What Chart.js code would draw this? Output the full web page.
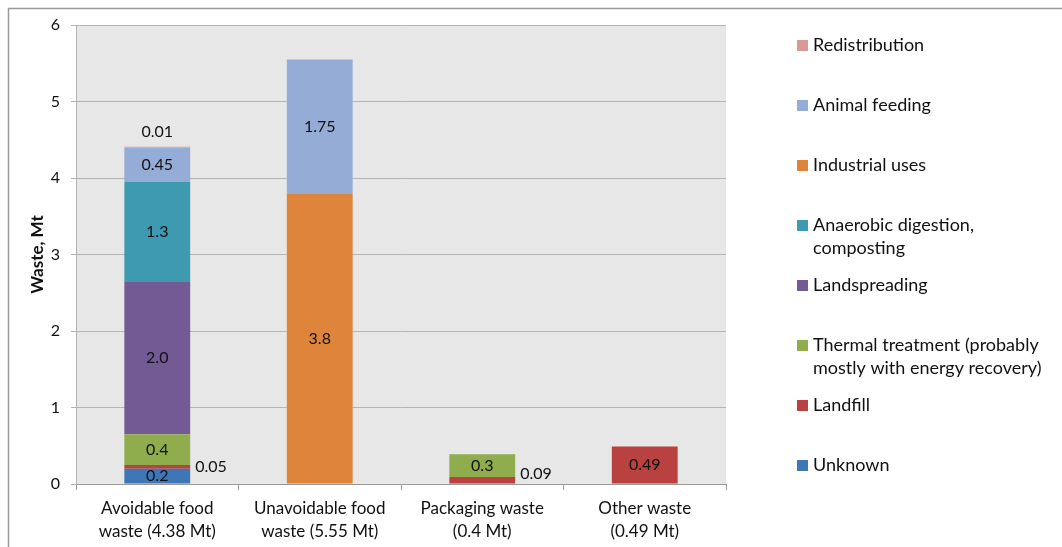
<!DOCTYPE html>
<html>
<head>
<meta charset="utf-8">
<script src="https://cdn.jsdelivr.net/npm/chart.js@4.4.1/dist/chart.umd.min.js"></script>
<style>
  html, body { margin: 0; padding: 0; background: #fff; }
  #wrap { width: 1062px; height: 547px; position: relative; }
</style>
</head>
<body>
<div id="wrap"><canvas id="chart"></canvas></div>
<script>
"use strict";

let CATEGORIES = [
    ["Avoidable food", "waste (4.38 Mt)"],
    ["Unavoidable food", "waste (5.55 Mt)"],
    ["Packaging waste", "(0.4 Mt)"],
    ["Other waste", "(0.49 Mt)"]
];

// stacked from the bottom up
let SERIES = [
    "Unknown",
    "Landfill",
    "Thermal treatment (probably\nmostly with energy recovery)",
    "Landspreading",
    "Anaerobic digestion,\ncomposting",
    "Industrial uses",
    "Animal feeding",
    "Redistribution"
];

let UNKNOWN        = [0.2,  0,    0,    0];
let LANDFILL       = [0.05, 0,    0.09, 0.49];
let THERMAL        = [0.4,  0,    0.3,  0];
let LANDSPREADING  = [2.0,  0,    0,    0];
let ANAEROBIC      = [1.3,  0,    0,    0];
let INDUSTRIAL     = [0,    3.8,  0,    0];
let ANIMAL_FEEDING = [0.45, 1.75, 0,    0];
let REDISTRIBUTION = [0.01, 0,    0,    0];

let Y_TICKS = [0, 1, 2, 3, 4, 5, 6];

let COLORS = ["#3f77b6", "#b9413f", "#8fad4d", "#745a94", "#3e9ab1", "#df853b", "#94acd6", "#d99999"];

let FONT = "Lato, 'Open Sans', sans-serif";
let TEXT = "#111";

let VALUES = [UNKNOWN, LANDFILL, THERMAL, LANDSPREADING, ANAEROBIC, INDUSTRIAL, ANIMAL_FEEDING, REDISTRIBUTION];

function fmt(v) {
    return Number.isInteger(v) ? v.toFixed(1) : String(v);
}

// gray plot area and the top/left frame lines
let backdrop = {
    id: "backdrop",
    beforeDraw(chart) {
        let ctx = chart.ctx, a = chart.chartArea;
        ctx.save();
        ctx.fillStyle = "#e7e7e7";
        ctx.fillRect(a.left, a.top, a.right - a.left, a.bottom - a.top);
        ctx.strokeStyle = "#9a9a9a";
        ctx.lineWidth = 1.5;
        ctx.beginPath();
        ctx.moveTo(8.5, chart.height);
        ctx.lineTo(8.5, 8.5);
        ctx.lineTo(chart.width, 8.5);
        ctx.stroke();
        ctx.restore();
    }
};

// value labels on the segments
let segmentLabels = {
    id: "segmentLabels",
    afterDatasetsDraw(chart) {
        let ctx = chart.ctx, a = chart.chartArea;
        ctx.save();
        ctx.font = "16px " + FONT;
        ctx.fillStyle = TEXT;
        ctx.textBaseline = "middle";
        chart.data.datasets.forEach(function(ds, di) {
            let meta = chart.getDatasetMeta(di);
            meta.data.forEach(function(bar, i) {
                let v = ds.data[i];
                if (!v) return;
                let top = Math.min(bar.y, bar.base);
                let bottom = Math.max(bar.y, bar.base);
                let mid = (top + bottom) / 2;
                if (v >= 0.1) {
                    ctx.textAlign = "center";
                    ctx.fillText(fmt(v), bar.x, mid);
                    return;
                }
                let above = chart.data.datasets.slice(di + 1).some(function(d) { return d.data[i] > 0; });
                if (!above) {
                    ctx.textAlign = "center";
                    ctx.fillText(fmt(v), bar.x, top - 15);
                } else {
                    ctx.textAlign = "left";
                    ctx.fillText(fmt(v), bar.x + bar.width / 2 + 5, Math.min(mid, a.bottom - 10));
                }
            });
        });
        ctx.restore();
    }
};

// legend on the right, top entry = top of stack
let sideLegend = {
    id: "sideLegend",
    afterDraw(chart) {
        let ctx = chart.ctx;
        let sets = chart.data.datasets.slice().reverse();
        ctx.save();
        ctx.font = "18px " + FONT;
        ctx.textBaseline = "middle";
        ctx.textAlign = "left";
        sets.forEach(function(ds, i) {
            let y = 45 + i * 60;
            ctx.fillStyle = ds.backgroundColor;
            ctx.fillRect(797, y - 5, 11, 11);
            ctx.fillStyle = TEXT;
            ds.label.split("\n").forEach(function(line, j) {
                ctx.fillText(line, 813, y + j * 23);
            });
        });
        ctx.restore();
    }
};

let datasets = SERIES.map(function(name, i) {
    return {
        label: name,
        data: VALUES[i],
        backgroundColor: COLORS[i],
        borderWidth: 0,
        categoryPercentage: 1.0,
        barPercentage: 0.405
    };
});

new Chart(document.getElementById("chart"), {
    type: "bar",
    data: {
        labels: CATEGORIES,
        datasets: datasets
    },
    options: {
        responsive: true,
        maintainAspectRatio: false,
        animation: false,
        layout: {
            padding: { left: 0, right: 336, top: 25, bottom: 0 }
        },
        plugins: {
            legend: { display: false },
            tooltip: { enabled: false }
        },
        scales: {
            x: {
                stacked: true,
                grid: {
                    drawOnChartArea: false,
                    drawTicks: true,
                    tickLength: 6,
                    color: "#9a9a9a"
                },
                border: { display: true, color: "#9a9a9a" },
                ticks: {
                    color: TEXT,
                    font: { family: FONT, size: 17, lineHeight: 1.35 },
                    padding: 7,
                    maxRotation: 0
                },
                afterFit(scale) { scale.height = 63; }
            },
            y: {
                stacked: true,
                min: Y_TICKS[0],
                max: Y_TICKS[Y_TICKS.length - 1],
                afterBuildTicks(scale) {
                    scale.ticks = Y_TICKS.map(function(v) { return { value: v }; });
                },
                grid: {
                    color: "#b4b4b4",
                    tickLength: 5
                },
                border: { display: true, color: "#b4b4b4" },
                ticks: {
                    color: TEXT,
                    font: { family: FONT, size: 16 },
                    padding: 11
                },
                title: {
                    display: true,
                    text: "Waste, Mt",
                    color: TEXT,
                    font: { family: FONT, size: 17, weight: "bold" },
                    padding: { top: 27, bottom: 0 }
                },
                afterFit(scale) { scale.width = 76; }
            }
        }
    },
    plugins: [backdrop, segmentLabels, sideLegend]
});
</script>
</body>
</html>
